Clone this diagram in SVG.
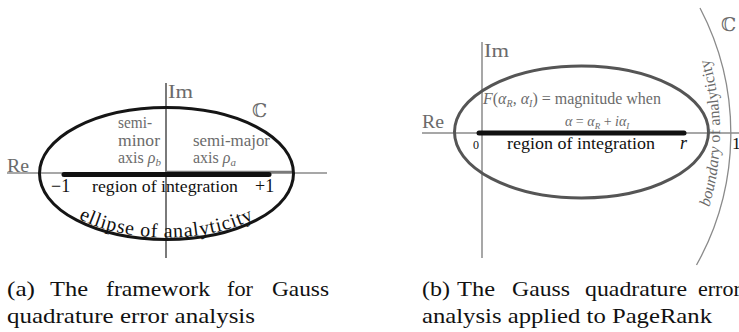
<svg xmlns="http://www.w3.org/2000/svg" width="739" height="332" viewBox="0 0 739 332">
<style>
text{font-family:"Liberation Serif","Times New Roman",serif}
.axis{stroke:#8a8a8a;stroke-width:1.5;fill:none}
.gl{fill:#6b6b6b}
.bl{fill:#111}
.cap{font-size:22px;fill:#111}
.dbl{font-family:"DejaVu Serif","Liberation Serif",serif}
.seg{stroke:#111;stroke-width:5;stroke-linecap:round}
</style>
<defs>
<path id="ellA" d="M 42.5 174 A 124 63.5 0 0 0 290.5 174"/>
<path id="bnd" d="M 690.5 253 A 259 259 0 0 0 690.5 13"/>
</defs>
<rect width="739" height="332" fill="#fff"/>
<g id="panel-a">
  <line class="axis" x1="7" y1="173" x2="327" y2="173"/>
  <line class="axis" x1="166" y1="83" x2="166" y2="258" style="stroke:#7a7a7a;stroke-width:2"/>
  <line x1="166" y1="172" x2="293" y2="172" stroke="#7a7a7a" stroke-width="2.5"/>
  <ellipse cx="166.5" cy="173.5" rx="127" ry="66" fill="none" stroke="#151515" stroke-width="3"/>
  <line class="seg" x1="64" y1="174.5" x2="269" y2="174.5"/>
  <text class="gl" x="7" y="172" font-size="19" textLength="22" lengthAdjust="spacingAndGlyphs">Re</text>
  <text class="gl" x="168" y="98" font-size="19" textLength="25" lengthAdjust="spacingAndGlyphs">Im</text>
  <text class="gl dbl" x="252" y="117" font-size="19">ℂ</text>
  <text class="gl" x="118" y="128" font-size="16" textLength="34" lengthAdjust="spacingAndGlyphs">semi-</text>
  <text class="gl" x="118" y="146" font-size="16" textLength="42" lengthAdjust="spacingAndGlyphs">minor</text>
  <text class="gl" x="118" y="163" font-size="16">axis <tspan font-style="italic">ρ</tspan><tspan font-style="italic" font-size="11" dy="3">b</tspan></text>
  <text class="gl" x="193" y="146" font-size="16" textLength="77" lengthAdjust="spacingAndGlyphs">semi-major</text>
  <text class="gl" x="193" y="163" font-size="16">axis <tspan font-style="italic">ρ</tspan><tspan font-style="italic" font-size="11" dy="3">a</tspan></text>
  <text class="bl" x="51" y="192" font-size="18">−1</text>
  <text class="bl" x="92" y="192" font-size="17.5" textLength="146" lengthAdjust="spacingAndGlyphs">region of integration</text>
  <text class="bl" x="255" y="192" font-size="18">+1</text>
  <text class="bl" font-size="20" letter-spacing="0.8"><textPath href="#ellA" startOffset="50%" text-anchor="middle">ellipse of analyticity</textPath></text>
</g>
<g id="panel-b">
  <line class="axis" x1="422" y1="133" x2="739" y2="133"/>
  <line class="axis" x1="482" y1="42" x2="482" y2="258"/>
  <path d="M 700 8 A 270 270 0 0 1 696.5 265" fill="none" stroke="#8a8a8a" stroke-width="1.3"/>
  <ellipse cx="581.5" cy="132" rx="127" ry="66" fill="none" stroke="#555" stroke-width="3"/>
  <line class="seg" x1="479" y1="133" x2="684" y2="133"/>
  <text class="gl" x="422" y="128" font-size="19" textLength="22" lengthAdjust="spacingAndGlyphs">Re</text>
  <text class="gl" x="484" y="57" font-size="19" textLength="25" lengthAdjust="spacingAndGlyphs">Im</text>
  <text class="gl dbl" x="721" y="31" font-size="19">ℂ</text>
  <text class="gl" x="483" y="104" font-size="16"><tspan font-style="italic">F</tspan>(<tspan font-style="italic">α</tspan><tspan font-style="italic" font-size="10" dy="3">R</tspan><tspan dy="-3">, </tspan><tspan font-style="italic">α</tspan><tspan font-style="italic" font-size="10" dy="3">I</tspan><tspan dy="-3">) = magnitude when</tspan></text>
  <text class="gl" x="565" y="126" font-size="14"><tspan font-style="italic">α</tspan> = <tspan font-style="italic">α</tspan><tspan font-style="italic" font-size="9" dy="2.5">R</tspan><tspan dy="-2.5"> + </tspan><tspan font-style="italic">iα</tspan><tspan font-style="italic" font-size="9" dy="2.5">I</tspan></text>
  <text class="bl" x="473" y="149" font-size="12">0</text>
  <text class="bl" x="507" y="149" font-size="17.5" textLength="148" lengthAdjust="spacingAndGlyphs">region of integration</text>
  <text class="bl" x="680" y="149" font-size="18" font-style="italic">r</text>
  <text class="bl" x="732" y="149" font-size="17.5">1</text>
  <text class="gl" font-size="16"><textPath href="#bnd" startOffset="50%" text-anchor="middle"><tspan font-style="italic">boundary</tspan> of analyticity</textPath></text>
</g>
<g id="captions" class="cap">
  <text class="cap" x="7" y="296" textLength="28" lengthAdjust="spacingAndGlyphs">(a)</text>
  <text class="cap" x="50" y="296" textLength="38" lengthAdjust="spacingAndGlyphs">The</text>
  <text class="cap" x="106" y="296" textLength="104" lengthAdjust="spacingAndGlyphs">framework</text>
  <text class="cap" x="227" y="296" textLength="26" lengthAdjust="spacingAndGlyphs">for</text>
  <text class="cap" x="272" y="296" textLength="57" lengthAdjust="spacingAndGlyphs">Gauss</text>
  <text class="cap" x="7" y="323" textLength="248" lengthAdjust="spacingAndGlyphs">quadrature error analysis</text>
  <text class="cap" x="422" y="296" textLength="28" lengthAdjust="spacingAndGlyphs">(b)</text>
  <text class="cap" x="457" y="296" textLength="38" lengthAdjust="spacingAndGlyphs">The</text>
  <text class="cap" x="512" y="296" textLength="58" lengthAdjust="spacingAndGlyphs">Gauss</text>
  <text class="cap" x="585" y="296" textLength="102" lengthAdjust="spacingAndGlyphs">quadrature</text>
  <text class="cap" x="698" y="296">error</text>
  <text class="cap" x="422" y="323" textLength="290" lengthAdjust="spacingAndGlyphs">analysis applied to PageRank</text>
</g>
</svg>
